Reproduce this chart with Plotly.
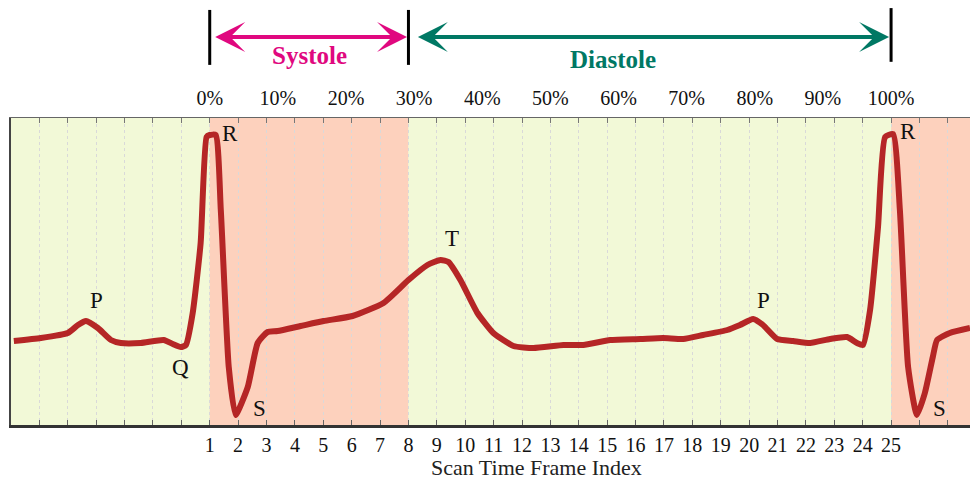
import plotly.graph_objects as go

# ---- data ----
frame = [-5.90, -4.95, -4.00, -3.64, -3.36, -2.94, -2.48, -2.13, -1.43, -0.62, -0.30, -0.02, 0.16, 0.40,
         0.68, 0.89, 1.00, 1.21, 1.39, 1.67, 1.91, 2.34, 2.69, 3.04, 3.39, 4.20, 5.01, 6.03, 7.12, 8.00,
         8.67, 9.13, 9.41, 9.83, 10.43, 10.99, 11.70, 12.40, 13.46, 14.16, 15.11, 16.17, 16.97, 17.68,
         18.38, 19.23, 19.68, 20.14, 20.49, 20.99, 21.55, 22.15, 22.85, 23.45, 23.80, 24.01, 24.26, 24.54,
         24.79, 25.07, 25.31, 25.60, 25.91, 26.19, 26.47, 26.62, 27.07, 27.78]
amplitude = [0.84, 0.87, 0.92, 1.00, 1.04, 0.97, 0.85, 0.82, 0.82, 0.85, 0.81, 0.78, 0.80, 1.12,
             1.82, 2.88, 2.90, 2.90, 2.15, 0.58, 0.10, 0.38, 0.82, 0.93, 0.94, 0.99, 1.04, 1.09, 1.22, 1.45,
             1.60, 1.65, 1.63, 1.45, 1.12, 0.92, 0.79, 0.77, 0.80, 0.80, 0.85, 0.86, 0.87, 0.86,
             0.90, 0.95, 1.00, 1.06, 1.00, 0.86, 0.84, 0.82, 0.86, 0.88, 0.82, 0.80, 1.15, 1.98,
             2.88, 2.91, 2.15, 0.58, 0.10, 0.32, 0.68, 0.85, 0.92, 0.97]

wave_labels = ["P", "Q", "R", "S", "T", "P", "R", "S"]
wave_x = [-2.98, -0.02, 1.70, 2.76, 9.55, 20.49, 25.60, 26.72]
wave_y = [1.25, 0.58, 2.92, 0.17, 1.87, 1.25, 2.94, 0.17]

frame_ticks = list(range(1, 26))
grid_ticks = list(range(-5, 28))
percent_ticks = [0, 10, 20, 30, 40, 50, 60, 70, 80, 90, 100]
percent_labels = [f"{p}%" for p in percent_ticks]

# phase boundaries (frame index)
cycle_start, systole_end, cycle_end = 1, 8, 25
x_range = [-6, 27.78]
y_range = [0, 3.07]

SERIF = "Liberation Serif, Times New Roman, serif"
BG_D = "#F2F9D7"
BG_S = "#FDD1BD"
MAGENTA = "#E0087F"
TEAL = "#007864"
LINE = "#B52626"

fig = go.Figure()
fig.add_trace(go.Scatter(x=frame, y=amplitude, mode="lines",
                         line=dict(color=LINE, width=6, shape="spline", smoothing=0.5),
                         showlegend=False, hoverinfo="skip"))
# dummy traces to anchor the top axes
fig.add_trace(go.Scatter(x=[None], y=[None], xaxis="x2", showlegend=False, hoverinfo="skip"))
fig.add_trace(go.Scatter(x=[None], y=[None], xaxis="x3", showlegend=False, hoverinfo="skip"))

for lab, xx, yy in zip(wave_labels, wave_x, wave_y):
    fig.add_annotation(x=xx, y=yy, text=lab, showarrow=False, yanchor="middle",
                       font=dict(family=SERIF, size=23, color="#111"))

# background bands
bands = [(x_range[0], cycle_start, BG_D), (cycle_start, systole_end, BG_S),
         (systole_end, cycle_end, BG_D), (cycle_end, x_range[1], BG_S)]
for x0, x1, c in bands:
    fig.add_shape(type="rect", xref="x", yref="paper", x0=x0, x1=x1, y0=0, y1=1,
                  fillcolor=c, line=dict(width=0), layer="below")

# vertical phase bars above the plot
for xb, yb0, yb1 in [(cycle_start, 1.173, 1.352), (systole_end, 1.173, 1.352), (cycle_end, 1.183, 1.358)]:
    fig.add_shape(type="line", xref="x", yref="paper", x0=xb, x1=xb, y0=yb0, y1=yb1,
                  line=dict(color="black", width=3))

# arrows (double headed)
arrow_y = 1.264
for tip, tail, col in [(systole_end - 0.05, cycle_start + 0.14, MAGENTA),
                       (cycle_end - 0.07, systole_end + 0.28, TEAL)]:
    fig.add_annotation(x=tip, y=arrow_y, ax=tail, ay=0,
                       xref="x", yref="paper", axref="x", ayref="pixel", text="", showarrow=True,
                       arrowhead=3, startarrowhead=3, arrowside="end+start", arrowsize=1.25,
                       startarrowsize=1.25, arrowwidth=4, arrowcolor=col)
fig.add_annotation(x=(cycle_start + systole_end) / 2, y=1.205, xref="x", yref="paper",
                   yanchor="middle", text="<b>Systole</b>", showarrow=False,
                   font=dict(family=SERIF, size=25, color=MAGENTA))
fig.add_annotation(x=15.2, y=1.192, xref="x", yref="paper", yanchor="middle",
                   text="<b>Diastole</b>", showarrow=False,
                   font=dict(family=SERIF, size=25, color=TEAL))

fig.add_annotation(x=12.5, y=-0.138, xref="x", yref="paper", yanchor="middle",
                   text="Scan Time Frame Index",
                   showarrow=False, font=dict(family=SERIF, size=22, color="#222"))

pct_pos = [cycle_start + (cycle_end - cycle_start) * p / 100 for p in percent_ticks]

fig.update_layout(
    width=970, height=481,
    margin=dict(l=11, r=0, t=118, b=56),
    paper_bgcolor="white", plot_bgcolor=BG_D,
    font=dict(family=SERIF, color="#111"),
    xaxis=dict(range=x_range, tickmode="array", tickvals=grid_ticks,
               ticktext=[str(t) if t in frame_ticks else "" for t in grid_ticks],
               ticks="inside", ticklen=5, tickcolor="#666", tickwidth=1,
               showgrid=True, gridcolor="#D9D9D9", gridwidth=1, griddash="dot",
               showline=True, linecolor="#333", linewidth=2.5, zeroline=False,
               tickfont=dict(family=SERIF, size=20, color="#111")),
    xaxis2=dict(range=x_range, overlaying="x", side="top", anchor="y",
                tickmode="array", tickvals=grid_ticks, ticktext=["" for _ in grid_ticks],
                ticks="inside", ticklen=5, tickcolor="#777", showgrid=False,
                showline=True, linecolor="#666", linewidth=1, zeroline=False),
    xaxis3=dict(range=x_range, overlaying="x", side="top", anchor="y",
                tickmode="array", tickvals=pct_pos, ticktext=percent_labels,
                ticks="", showgrid=False, showline=False, zeroline=False,
                ticklabelstandoff=8,
                tickfont=dict(family=SERIF, size=20, color="#111")),
    yaxis=dict(range=y_range, showticklabels=False, ticks="", showgrid=False,
               zeroline=False, showline=True, linecolor="#444", linewidth=1.5),
)

fig.write_html("out.html", post_script="document.body.style.margin='0';",
               config={"displayModeBar": False})
